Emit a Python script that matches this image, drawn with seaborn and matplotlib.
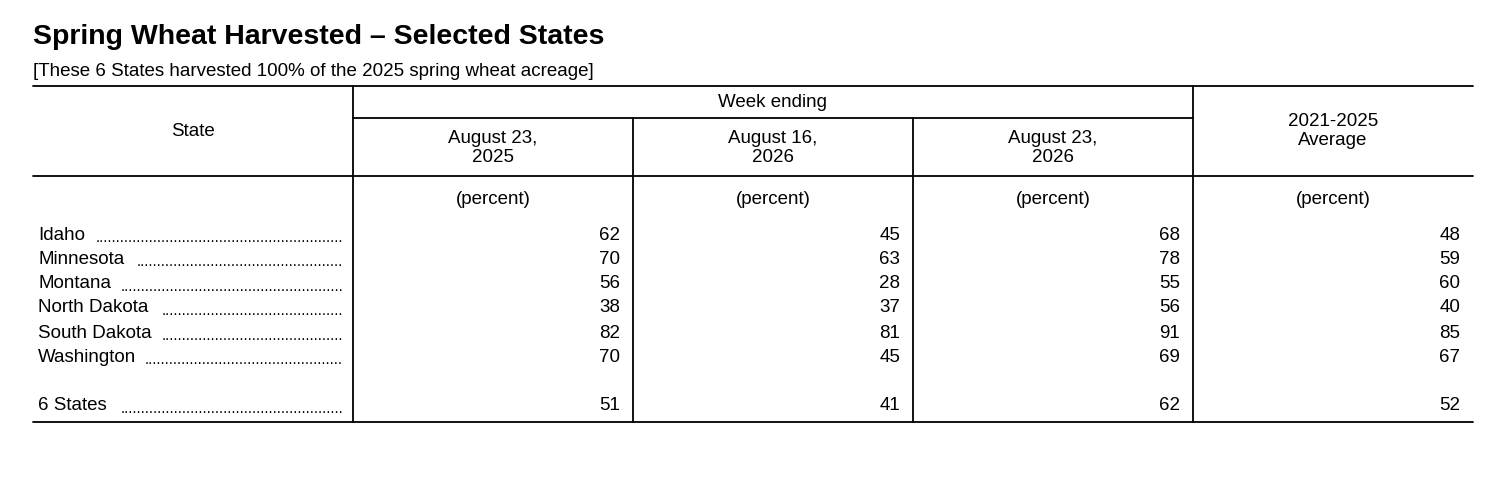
import matplotlib
matplotlib.use("Agg")
import matplotlib.pyplot as plt
import seaborn as sns

sns.set_theme(style="white")
plt.rcParams['font.family'] = ['Liberation Sans', 'DejaVu Sans']
plt.rcParams['text.color'] = 'black'

title = "Spring Wheat Harvested \u2013 Selected States"
subtitle = "[These 6 States harvested 100% of the 2025 spring wheat acreage]"
states = ["Idaho", "Minnesota", "Montana", "North Dakota", "South Dakota", "Washington"]
aug23_2025 = [62, 70, 56, 38, 82, 70]
aug16_2026 = [45, 63, 28, 37, 81, 45]
aug23_2026 = [68, 78, 55, 56, 91, 69]
avg_2021_2025 = [48, 59, 60, 40, 85, 67]
total_label = "6 States"
totals = [51, 41, 62, 52]
col_headers = ["August 23,\n2025", "August 16,\n2026", "August 23,\n2026"]

W, H = 1492, 478
fig = plt.figure(figsize=(W / 100, H / 100), dpi=100)
ax = fig.add_axes([0, 0, 1, 1])
ax.set_xlim(0, W)
ax.set_ylim(H, 0)
ax.axis("off")

fs = 13.5
ax.text(33, 37, title, fontsize=20.5, fontweight="bold", va="center", ha="left")
ax.text(33, 71, subtitle, fontsize=fs, va="center", ha="left")

lw = 1.3
for y in (86, 176, 422):
    ax.plot([33, 1473], [y, y], color="black", lw=lw)
ax.plot([353, 1193], [118, 118], color="black", lw=lw)
for x in (353, 1193):
    ax.plot([x, x], [86, 422], color="black", lw=lw)
for x in (633, 913):
    ax.plot([x, x], [118, 422], color="black", lw=lw)

ax.text(193, 131, "State", fontsize=fs, ha="center", va="center")
ax.text(773, 102, "Week ending", fontsize=fs, ha="center", va="center")
centers = [493, 773, 1053, 1333]
for cx, lab in zip(centers[:3], col_headers):
    ax.text(cx, 148, lab, fontsize=fs, ha="center", va="center", linespacing=1.2)
ax.text(1333, 131, "2021-2025\nAverage", fontsize=fs, ha="center", va="center", linespacing=1.2)
for cx in centers:
    ax.text(cx, 199, "(percent)", fontsize=fs, ha="center", va="center")

fig.canvas.draw()
renderer = fig.canvas.get_renderer()
probe = ax.text(0, 0, ". " * 50, fontsize=fs * 0.8)
dot_w = probe.get_window_extent(renderer).width / 50
probe.remove()


def row(y, name, vals):
    t = ax.text(38, y, name, fontsize=fs, ha="left", va="center")
    nw = t.get_window_extent(renderer).width
    n = int((343 - 38 - nw - 8) / dot_w)
    ax.text(343, y + 3, "." * (2 * n), fontsize=fs * 0.8, ha="right", va="center")
    for rx, v in zip([620, 900, 1180, 1460], vals):
        ax.text(rx, y, str(v), fontsize=fs, ha="right", va="center")


row_y = [235, 259, 284, 308, 333, 357]
for i, s in enumerate(states):
    row(row_y[i], s, [aug23_2025[i], aug16_2026[i], aug23_2026[i], avg_2021_2025[i]])
row(406, total_label, totals)

fig.savefig("out.png", dpi=100, facecolor="white")
